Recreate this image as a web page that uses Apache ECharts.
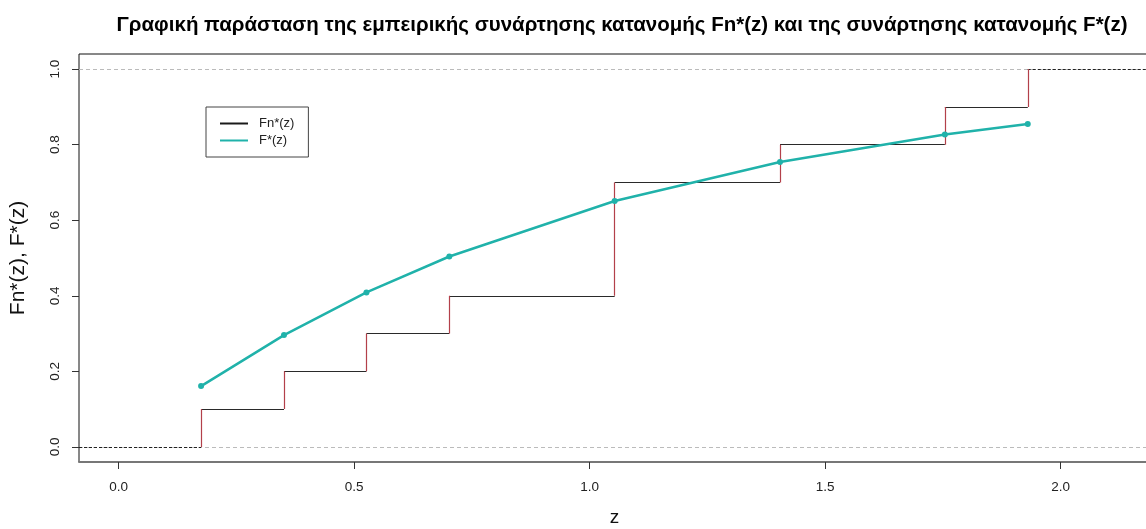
<!DOCTYPE html>
<html>
<head>
<meta charset="utf-8">
<script src="https://cdn.jsdelivr.net/npm/echarts@6/dist/echarts.min.js"></script>
<style>
html,body{margin:0;padding:0;background:#fff;}
#c{width:1146px;height:529px;}
</style>
</head>
<body>
<div id="c"></div>
<script>
// ---- data ----
const knots = [0.175, 0.351, 0.526, 0.702, 1.053, 1.404, 1.754, 1.930];   // z values of jumps
const fnValues = [0.1, 0.2, 0.3, 0.4, 0.7, 0.8, 0.9, 1.0];               // Fn*(z) after each jump
const fValues = [0.161, 0.296, 0.409, 0.504, 0.651, 0.754, 0.827, 0.855]; // F*(z) at knots
const xTicks = [0.0, 0.5, 1.0, 1.5, 2.0];
const yTicks = [0.0, 0.2, 0.4, 0.6, 0.8, 1.0];
const titleText = 'Γραφική παράσταση της εμπειρικής συνάρτησης κατανομής Fn*(z) και της συνάρτησης κατανομής F*(z)';

const X_MIN = -0.0842, X_MAX = 2.1895;
const FONT = '"Liberation Sans", Arial, sans-serif';

// horizontal step segments
const horiz = [];
for (let i = 0; i < knots.length - 1; i++) {
  horiz.push({ coords: [[knots[i], fnValues[i]], [knots[i + 1], fnValues[i]]] });
}
// vertical jumps
const vert = [];
for (let i = 0; i < knots.length; i++) {
  const prev = i === 0 ? 0 : fnValues[i - 1];
  vert.push({ coords: [[knots[i], prev], [knots[i], fnValues[i]]] });
}
const refLines = [
  { coords: [[X_MIN, 0], [X_MAX, 0]] },
  { coords: [[X_MIN, 1], [X_MAX, 1]] }
];
const extLines = [
  { coords: [[X_MIN, 0], [knots[0], 0]] },
  { coords: [[knots[knots.length - 1], 1], [X_MAX, 1]] }
];

const chart = echarts.init(document.getElementById('c'), null, { renderer: 'canvas' });
chart.setOption({
  animation: false,
  backgroundColor: '#fff',
  textStyle: { fontFamily: FONT },
  title: {
    text: titleText,
    left: 617,
    top: 10,
    textAlign: 'center',
    textStyle: { fontFamily: FONT, fontSize: 20.5, fontWeight: 'bold', color: '#000' }
  },
  legend: {
    data: [
      { name: 'Fn*(z)', itemStyle: { color: '#1a1a1a', borderWidth: 0 } },
      { name: 'F*(z)', itemStyle: { color: '#20B2AA', borderWidth: 0 } }
    ],
    orient: 'vertical',
    left: 206,
    top: 107,
    padding: [10, 14, 10, 14],
    itemGap: 4,
    itemWidth: 28,
    itemHeight: 2,
    icon: 'rect',
    borderColor: '#444',
    borderWidth: 1,
    backgroundColor: '#fff',
    textStyle: { fontFamily: FONT, fontSize: 13, color: '#222', padding: [0, 0, 0, 6] }
  },
  grid: {
    left: 79, top: 54, width: 1071, height: 408,
    outerBoundsMode: 'none',
    containLabel: false,
    show: true, borderColor: '#111', borderWidth: 1, backgroundColor: 'transparent'
  },
  xAxis: {
    type: 'value',
    min: X_MIN, max: X_MAX,
    name: 'z',
    nameLocation: 'middle',
    nameGap: 46,
    nameTextStyle: { fontFamily: FONT, fontSize: 19, color: '#111' },
    axisLine: { show: true, onZero: false, lineStyle: { color: '#777', width: 2 } },
    axisTick: { show: true, length: 7, inside: false, customValues: xTicks, lineStyle: { color: '#333' } },
    axisLabel: {
      customValues: xTicks, margin: 18, fontSize: 13.5, color: '#222', fontFamily: FONT,
      formatter: v => Number(v).toFixed(1)
    },
    splitLine: { show: false }
  },
  yAxis: {
    type: 'value',
    min: -0.04, max: 1.04,
    name: 'Fn*(z), F*(z)',
    nameLocation: 'middle',
    nameGap: 50,
    nameRotate: 90,
    nameTextStyle: { fontFamily: FONT, fontSize: 21, color: '#111' },
    axisLine: { show: false, onZero: false },
    axisTick: { show: true, length: 7, customValues: yTicks, lineStyle: { color: '#333' } },
    axisLabel: {
      customValues: yTicks, rotate: 90, margin: 17, fontSize: 13.5, color: '#222', fontFamily: FONT,
      formatter: v => Number(v).toFixed(1)
    },
    splitLine: { show: false }
  },
  series: [
    {
      name: 'ref', type: 'lines', coordinateSystem: 'cartesian2d', silent: true,
      lineStyle: { color: '#bbb', width: 1, type: [4, 3], opacity: 1 },
      data: refLines, z: 1
    },
    {
      name: 'ext', type: 'lines', coordinateSystem: 'cartesian2d', silent: true,
      lineStyle: { color: '#222', width: 1, type: [3, 2], opacity: 1 },
      data: extLines, z: 2
    },
    {
      name: 'Fn*(z)', type: 'lines', coordinateSystem: 'cartesian2d', silent: true,
      lineStyle: { color: '#2a2a2a', width: 1.2, opacity: 1 },
      itemStyle: { color: '#2a2a2a' },
      data: horiz, z: 3
    },
    {
      name: 'jumps', type: 'lines', coordinateSystem: 'cartesian2d', silent: true,
      lineStyle: { color: '#b3404a', width: 1.2, opacity: 1 },
      data: vert, z: 3
    },
    {
      name: 'F*(z)', type: 'line',
      data: knots.map((k, i) => [k, fValues[i]]),
      lineStyle: { color: '#20B2AA', width: 2.5 },
      itemStyle: { color: '#20B2AA' },
      symbol: 'circle', symbolSize: 6, showSymbol: true,
      z: 4
    }
  ]
});
</script>
</body>
</html>
